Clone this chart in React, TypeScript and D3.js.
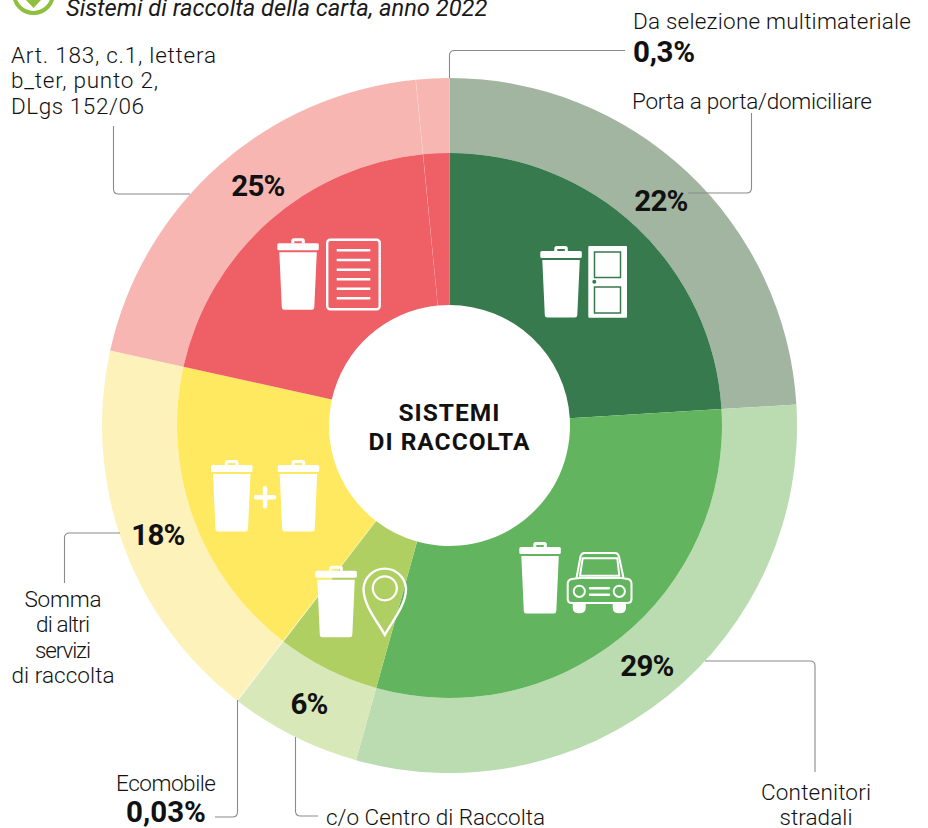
import React from "react";
import * as d3 from "d3";

const width = 928;
const height = 828;
const cx = 449.5;
const cy = 425.5;
const rHole = 120.5;
const rMid = 272.5;
const rOuter = 347.5;
const fontFamily = "Roboto, 'Noto Sans', sans-serif";

const categories = [
  "Porta a porta/domiciliare",
  "Contenitori stradali",
  "c/o Centro di Raccolta",
  "Ecomobile",
  "Somma di altri servizi di raccolta",
  "Art. 183, c.1, lettera b_ter, punto 2, DLgs 152/06",
  "Da selezione multimateriale",
];
const shares = [24.05, 30.3, 6.1, 0.03, 18, 20, 1.55];
const innerColors = ["#377a4e", "#62b55e", "#afcf62", "#d8e8b9", "#ffe960", "#ee5f66", "#ee5f66"];
const outerColors = ["#a1b5a0", "#bbdbb0", "#d8e8b9", "#d8e8b9", "#fef2bb", "#f7b6b1", "#f7b6b1"];

const pctLabels = [
  { t: "22%", x: 661, y: 211 },
  { t: "29%", x: 647, y: 676 },
  { t: "6%", x: 309, y: 714 },
  { t: "18%", x: 158, y: 545 },
  { t: "25%", x: 258, y: 196 },
];

// w = width of the line in the reference
const textLines = [
  { t: "Da selezione multimateriale", x: 633, y: 29, a: "start", w: 278 },
  { t: "Porta a porta/domiciliare", x: 632, y: 109, a: "start", w: 240 },
  { t: "Art. 183, c.1, lettera", x: 11, y: 62.5, a: "start", w: 205 },
  { t: "b_ter, punto 2,", x: 11, y: 88, a: "start", w: 147 },
  { t: "DLgs 152/06", x: 11, y: 114, a: "start", w: 133 },
  { t: "Somma", x: 63, y: 607, a: "middle", w: 77 },
  { t: "di altri", x: 63, y: 632, a: "middle", w: 54 },
  { t: "servizi", x: 63, y: 658, a: "middle", w: 56 },
  { t: "di raccolta", x: 63, y: 683, a: "middle", w: 103 },
  { t: "Ecomobile", x: 166, y: 791, a: "middle", w: 100 },
  { t: "c/o Centro di Raccolta", x: 326, y: 825, a: "start", w: 219 },
  { t: "Contenitori", x: 816, y: 800, a: "middle", w: 110 },
  { t: "stradali", x: 816, y: 825, a: "middle", w: 73 },
];

const leaders = [
  "M449.5,78V55.5q0,-5 5,-5H625",
  "M113.5,126V189q0,5 5,5H190",
  "M751.5,113V188q0,5 -5,5H688",
  "M705,661H810q5,0 5,5V772",
  "M64.5,583V538q0,-5 5,-5H120",
  "M237.5,700V812q0,5 -5,5H215",
  "M295.5,737V811q0,5 5,5H318",
];

const Bin = ({ x, y }: { x: number; y: number }) => (
  <g transform={`translate(${x},${y})`} fill="#fff">
    <path d="M14,5V2.5q0,-2.5 2.5,-2.5h8.5q2.5,0 2.5,2.5V5h-3V3h-7.5v2z" />
    <rect x={0} y={5} width={41.5} height={7} rx={1.5} />
    <path d="M2,14H39.5L37,69q-.1,2.5 -2.5,2.5H7q-2.4,0 -2.5,-2.5z" />
  </g>
);

export default function App() {
  const pie = d3.pie<number>().sort(null).value((d) => d);
  const slices = pie(shares);
  const innerArc = d3.arc<d3.PieArcDatum<number>>().innerRadius(rHole).outerRadius(rMid);
  const outerArc = d3.arc<d3.PieArcDatum<number>>().innerRadius(rMid).outerRadius(rOuter);

  return (
    <svg
      width={width}
      height={height}
      viewBox={`0 0 ${width} ${height}`}
      style={{ position: "absolute", left: 0, top: 0, fontFamily }}
    >
      <rect width={width} height={height} fill="#fff" />

      {/* logo cut by the top edge, then the subtitle */}
      <circle cx={33.5} cy={-6.5} r={19.5} fill="none" stroke="#8fbf3e" strokeWidth={4} />
      <path d="M25,-1L33.5,8L42,-1h-5V-8h-7V-1z" fill="#8fbf3e" />
      <text x={66} y={16} fontSize={23.7} fontStyle="italic" fill="#1a1a1a">
        Sistemi di raccolta della carta, anno 2022
      </text>

      <g transform={`translate(${cx},${cy})`}>
        {slices.map((s, i) => (
          <g key={categories[i]}>
            <path d={outerArc(s) ?? ""} fill={outerColors[i]} />
            <path d={innerArc(s) ?? ""} fill={innerColors[i]} />
          </g>
        ))}
        {/* faint cut between the two red sectors */}
        <path
          d={d3.arc()({
            innerRadius: rHole,
            outerRadius: rOuter,
            startAngle: slices[6].startAngle - 0.001,
            endAngle: slices[6].startAngle + 0.001,
          }) ?? ""}
          fill="#fff"
          opacity={0.25}
        />
        <path
          d={d3.arc()({
            innerRadius: rHole,
            outerRadius: rOuter,
            startAngle: slices[3].startAngle,
            endAngle: slices[3].startAngle + 0.003,
          }) ?? ""}
          fill="#fff"
          opacity={0.5}
        />
      </g>

      {leaders.map((d) => (
        <path key={d} d={d} fill="none" stroke="#8a8a8a" strokeWidth={1.1} />
      ))}

      {/* door */}
      <Bin x={540.3} y={246} />
      <rect x={588.3} y={246} width={38.7} height={71.7} rx={1} fill="#fff" />
      <rect x={594.5} y={252} width={26} height={25.5} fill="#fff" stroke="#377a4e" strokeWidth={1.5} />
      <rect x={594.5} y={287} width={26} height={26} fill="#fff" stroke="#377a4e" strokeWidth={1.5} />
      <circle cx={594.3} cy={281.7} r={2} fill="#377a4e" />

      {/* document */}
      <Bin x={277.3} y={238.3} />
      <rect x={327.2} y={239.7} width={52.5} height={69.5} rx={3} fill="none" stroke="#fff" strokeWidth={2.4} />
      {[250.3, 260, 269.7, 279.3, 288.7, 298.3].map((y) => (
        <line key={y} x1={336.7} x2={370.3} y1={y} y2={y} stroke="#fff" strokeWidth={2.4} />
      ))}

      {/* two bins */}
      <Bin x={211} y={460} />
      <Bin x={277.7} y={460} />
      <path d="M256,497.3H274M265,488.3V506.3" stroke="#fff" strokeWidth={4.5} strokeLinecap="round" />

      {/* pin */}
      <Bin x={315.3} y={565.7} />
      <path
        d="M384.8,635C378,622 363.5,606 363.5,588.5A21.3,21.3 0 0 1 406,588.5C406,606 391.5,622 384.8,635z"
        fill="none"
        stroke="#fff"
        strokeWidth={2.4}
      />
      <circle cx={384.8} cy={588.3} r={12} fill="none" stroke="#fff" strokeWidth={2.2} />

      {/* car */}
      <Bin x={519.3} y={542} />
      <g fill="none" stroke="#fff" strokeWidth={2}>
        <path d="M576.5,578L580.5,556.5q1,-3.5 4,-3.5H615q3,0 4,3.5L623.5,578" />
        <path d="M580,575.7L582.7,558.3H617.3L619.3,575.7z" />
        <path d="M567.7,584q0,-4 4,-5l8,-1H621l7,1q3.5,1 3.5,5V599q0,4 -4,4H571.7q-4,0 -4,-4z" />
        <circle cx={579.3} cy={591.3} r={5.6} />
        <circle cx={619.3} cy={591.3} r={5.6} />
        <path d="M590,588.3H609M590,594.7H609" strokeWidth={2.4} strokeLinecap="round" />
      </g>
      <path d="M572.7,604H585.7V608q0,5.3 -6.5,5.3t-6.5,-5.3zM612.7,604H626V608q0,5.3 -6.7,5.3t-6.6,-5.3z" fill="#fff" />

      <g textAnchor="middle" fontWeight={700} fontSize={24.5} fill="#111" letterSpacing={1}>
        <text x={449.5} y={421}>SISTEMI</text>
        <text x={449.5} y={450}>DI RACCOLTA</text>
      </g>

      {pctLabels.map((d) => (
        <text key={d.t} x={d.x} y={d.y} textAnchor="middle" fontWeight={700} fontSize={29.5} letterSpacing={-0.8} fill="#111">
          {d.t}
        </text>
      ))}
      <text x={633} y={62} fontWeight={700} fontSize={29.5} letterSpacing={-0.3} fill="#111">0,3%</text>
      <text x={166} y={822} textAnchor="middle" fontWeight={700} fontSize={29.5} fill="#111">0,03%</text>

      {textLines.map((d) => (
        <text
          key={d.t}
          x={d.x}
          y={d.y}
          textAnchor={d.a as "start" | "middle"}
          fontSize={22.5}
          fontWeight={300}
          textLength={d.w}
          lengthAdjust="spacing"
          fill="#111"
        >
          {d.t}
        </text>
      ))}
    </svg>
  );
}
